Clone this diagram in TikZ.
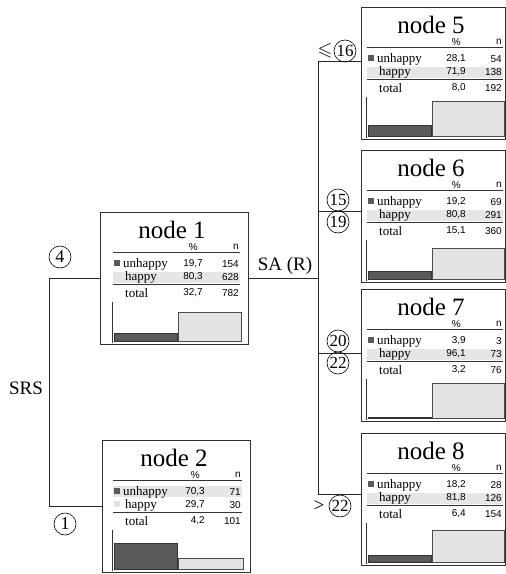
\documentclass[tikz,border=0pt]{standalone}
\usepackage{amssymb}
\usepackage{fontspec}
\setmainfont{Liberation Serif}
\newfontfamily\numfont{Liberation Sans}
\usetikzlibrary{calc}
\definecolor{darkbar}{HTML}{5A5A5A}
\definecolor{lightbar}{HTML}{E3E3E3}
\definecolor{bandc}{HTML}{E6E6E6}
\definecolor{boxline}{HTML}{303030}
\tikzset{
 nbox/.style={draw=boxline, line width=0.9pt, minimum width=#1, minimum height=132pt, inner sep=0pt, anchor=north west},
 ttl/.style={font=\fontsize{25}{25}\selectfont, inner sep=0pt},
 lbl/.style={font=\fontsize{13}{13}\selectfont, inner sep=0pt, anchor=west},
 num/.style={font=\numfont\fontsize{10}{10}\selectfont, inner sep=0pt, anchor=east},
 circ/.style={draw, circle, line width=0.6pt, minimum size=22pt, inner sep=0pt, font=\fontsize{18}{18}\selectfont},
 circs/.style={circ, font=\fontsize{17}{17}\selectfont},
 conn/.style={line width=0.9pt, draw=black!85},
 big/.style={font=\fontsize{19}{19}\selectfont, inner sep=0pt},
 rule/.style={line width=0.8pt, draw=black!80},
 darkb/.style={fill=darkbar, draw=black!80, line width=0.6pt},
 lightb/.style={fill=lightbar, draw=black!70, line width=0.6pt},
}
% #1 title, #2 u%, #3 u n, #4 h%, #5 h n, #6 t%, #7 t n, #8 dark h, #9 light h
\newcommand\nbody[9]{%
  \fill[bandc] (\TL,\BY) rectangle (\TR,{\BY+11});
  \node[ttl] at ({\BW/2-2},18) {#1};
  \node[num] at ({\TR-42},35) {\%};
  \node[num] at ({\TR-1},35) {n};
  \draw[rule] (\TL,40) -- (\TR,40);
  \fill[darkbar] ({\TL+1},48) rectangle ({\TL+7},54);
  \fill[lightbar] ({\TL+1},61) rectangle ({\TL+7},67);
  \node[lbl] at ({\TL+10},52) {unhappy};
  \node[lbl] at ({\TL+12},65) {happy};
  \draw[rule] (\TL,72) -- (\TR,72);
  \node[lbl] at ({\TL+12},81) {total};
  \node[num] at ({\TR-37},52) {#2};
  \node[num] at ({\TR-1},52) {#3};
  \node[num] at ({\TR-37},65) {#4};
  \node[num] at ({\TR-1},65) {#5};
  \node[num] at ({\TR-37},81) {#6};
  \node[num] at ({\TR-1},81) {#7};
  \draw[rule] ({\TL-1},90) -- ({\TL-1},{\BH-1});
  \draw[darkb] ({\TL+1},{\BH-3}) rectangle ({\TL+64},{\BH-3-#8});
  \draw[lightb] ({\TL+65},{\BH-3}) rectangle ({\TR+1},{\BH-3-#9});
}
\begin{document}
\begin{tikzpicture}[x=1pt,y=-1pt]
\useasboundingbox[fill=white] (0,0) rectangle (506,574);

% boxes
\node[nbox=148pt] (n1) at (100,212) {};
\node[nbox=148pt] (n2) at (102,440) {};
\node[nbox=144pt] (n5) at (361,7) {};
\node[nbox=144pt] (n6) at (361,150) {};
\node[nbox=144pt] (n7) at (361,289) {};
\node[nbox=144pt] (n8) at (361,433) {};

\begin{scope}[shift={(n1.north west)}]
 \def\TL{13}\def\TR{140}\def\BW{148}\def\BH{132}\def\BY{60}
 \nbody{node 1}{19,7}{154}{80,3}{628}{32,7}{782}{8}{29}
\end{scope}
\begin{scope}[shift={(n2.north west)}]
 \def\TL{11}\def\TR{140}\def\BW{148}\def\BH{132}\def\BY{46}
 \nbody{node 2}{70,3}{71}{29,7}{30}{4,2}{101}{26}{11}
\end{scope}
\begin{scope}[shift={(n5.north west)}]
 \def\TL{6}\def\TR{142}\def\BW{144}\def\BH{132}\def\BY{60}
 \nbody{node 5}{28,1}{54}{71,9}{138}{8,0}{192}{11}{35}
\end{scope}
\begin{scope}[shift={(n6.north west)}]
 \def\TL{6}\def\TR{142}\def\BW{144}\def\BH{132}\def\BY{60}
 \nbody{node 6}{19,2}{69}{80,8}{291}{15,1}{360}{8}{31}
\end{scope}
\begin{scope}[shift={(n7.north west)}]
 \def\TL{6}\def\TR{142}\def\BW{144}\def\BH{132}\def\BY{60}
 \nbody{node 7}{3,9}{3}{96,1}{73}{3,2}{76}{1}{35}
\end{scope}
\begin{scope}[shift={(n8.north west)}]
 \def\TL{6}\def\TR{142}\def\BW{144}\def\BH{132}\def\BY{60}
 \nbody{node 8}{18,2}{28}{81,8}{126}{6,4}{154}{7}{32}
\end{scope}

% left split
\draw[conn] (n1.west) -- ++(-51,0) coordinate (lft) |- (n2.west);
\node[big] at (26,388) {SRS};
\node[circ] (c4) at (60,257) {4};
\node[circ] (c1) at (65,524) {1};

% right split
\draw[conn] ([yshift=12pt]n5.west) -- ++(-43,0) coordinate (a5);
\draw[conn] ([yshift=5pt]n6.west) -- ++(-43,0) coordinate (a6);
\draw[conn] ([yshift=2pt]n7.west) -- ++(-43,0) coordinate (a7);
\draw[conn] ([yshift=5pt]n8.west) -- ++(-43,0) coordinate (a8);
\draw[conn] (a5) -- (a8);
\draw[conn] (n1.east) -- (n1.east -| a5);
\node[big] at (285,266) {SA (R)};

\node[circs] (c16) at (345,51) {16};
\node[font=\fontsize{19}{19}\selectfont, inner sep=0pt] at (325,51) {$\leqslant$};
\node[circs] (c15) at (338,200) {15};
\node[circs] (c19) at (338,222) {19};
\node[circs] (c20) at (338,341) {20};
\node[circs] (c22a) at (338,363) {22};
\node[circs] (c22b) at (340,506) {22};
\node[big] at (319,506) {>};
\end{tikzpicture}
\end{document}
